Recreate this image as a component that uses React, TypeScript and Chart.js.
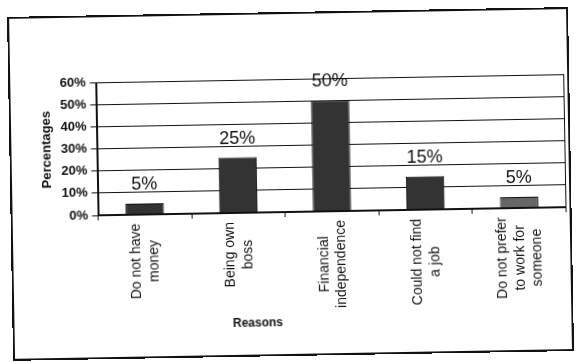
import { useEffect, useRef } from "react";
import { Chart, registerables } from "chart.js";

Chart.register(...registerables);

// Survey: reasons for starting own business
const reasons: string[][] = [
  ["Do not have", "money"],
  ["Being own", "boss"],
  ["Financial", "independence"],
  ["Could not find", "a job"],
  ["Do not prefer", "to work for", "someone"],
];
const percentages: number[] = [5, 25, 50, 15, 5];
const barColors: string[] = ["#333333", "#333333", "#333333", "#333333", "#666666"];
const yMax = 60;
const yStep = 10;
const yAxisTitle = "Percentages";
const xAxisTitle = "Reasons";

const FONT = '"Liberation Sans", Arial, sans-serif';
const INK = "#111111";

// Draws the plot frame, the wrapped category labels, the x-axis title and value labels
const annotate = {
  id: "annotate",
  afterDatasetsDraw(chart: any) {
    const { ctx } = chart;
    const meta = chart.getDatasetMeta(0);
    ctx.save();
    ctx.font = `18px ${FONT}`;
    ctx.fillStyle = INK;
    ctx.textAlign = "center";
    ctx.textBaseline = "middle";
    meta.data.forEach((bar: any, i: number) => {
      ctx.fillText(`${percentages[i]}%`, bar.x, bar.y - 19);
    });
    ctx.restore();
  },
  afterDraw(chart: any) {
    const { ctx, chartArea } = chart;
    const xScale = chart.scales.x;
    ctx.save();
    ctx.strokeStyle = INK;
    ctx.lineWidth = 1;
    ctx.strokeRect(
      Math.round(chartArea.left) + 0.5,
      Math.round(chartArea.top) + 0.5,
      Math.round(chartArea.width) - 1,
      Math.round(chartArea.height) - 1
    );

    ctx.font = `14px ${FONT}`;
    ctx.fillStyle = INK;
    const lineH = 17.5;
    reasons.forEach((lines, i) => {
      const px = xScale.getPixelForValue(i);
      const maxW = Math.max(...lines.map((l) => ctx.measureText(l).width));
      const top = chartArea.bottom + 9;
      ctx.save();
      ctx.translate(px, top + maxW / 2);
      ctx.rotate(-Math.PI / 2);
      ctx.textAlign = "center";
      ctx.textBaseline = "middle";
      lines.forEach((l, j) => {
        ctx.fillText(l, 0, (j - (lines.length - 1) / 2) * lineH);
      });
      ctx.restore();
    });

    ctx.font = `bold 12px ${FONT}`;
    ctx.textAlign = "center";
    ctx.textBaseline = "middle";
    ctx.fillText(xAxisTitle, chartArea.left + 158, 322.5);
    ctx.restore();
  },
};

export default function App() {
  const canvasRef = useRef<HTMLCanvasElement | null>(null);

  useEffect(() => {
    if (!canvasRef.current) return;
    const chart = new Chart(canvasRef.current, {
      type: "bar",
      data: {
        labels: reasons.map((r) => r.join(" ")),
        datasets: [
          {
            data: percentages,
            backgroundColor: barColors,
            borderColor: INK,
            borderWidth: 1,
            barPercentage: 0.41,
            categoryPercentage: 1,
          },
        ],
      },
      options: {
        responsive: false,
        animation: false,
        layout: { padding: { left: 40, top: 79, right: 10.5, bottom: 32.3 } },
        plugins: {
          legend: { display: false },
          tooltip: { enabled: false },
        },
        scales: {
          x: {
            afterFit: (scale: any) => {
              scale.height = 117.7;
            },
            grid: {
              display: true,
              drawOnChartArea: false,
              drawTicks: true,
              tickLength: 5,
              color: INK,
              offset: true,
            },
            border: { display: true, color: INK, width: 1 },
            ticks: { display: false },
          },
          y: {
            min: 0,
            max: yMax,
            afterFit: (scale: any) => {
              scale.width = 57.5;
            },
            grid: { color: INK, lineWidth: 1, tickLength: 6, drawTicks: true },
            border: { display: true, color: INK, width: 1 },
            ticks: {
              stepSize: yStep,
              padding: 4,
              color: INK,
              font: { family: FONT, size: 13, weight: "bold" },
              callback: (v: any) => `${v}%`,
            },
            title: {
              display: true,
              text: yAxisTitle,
              color: INK,
              padding: { top: 0, bottom: 0 },
              font: { family: FONT, size: 13, weight: "bold" },
            },
          },
        },
      },
      plugins: [annotate],
    });
    return () => chart.destroy();
  }, []);

  return (
    <div
      style={{
        position: "absolute",
        left: 0,
        top: 0,
        width: 576,
        height: 362,
        overflow: "hidden",
        background: "#ffffff",
      }}
    >
      <div
        style={{
          position: "absolute",
          left: 0,
          top: 0,
          width: 576,
          height: 362,
          transform: "rotate(-1deg)",
          transformOrigin: "288px 181px",
        }}
      >
        <canvas
          ref={canvasRef}
          width={576}
          height={362}
          style={{ position: "absolute", left: 0, top: 0 }}
        />
        <div
          style={{
            position: "absolute",
            left: 10,
            top: 12,
            width: 561,
            height: 344,
            border: `2px solid ${INK}`,
            boxSizing: "border-box",
            pointerEvents: "none",
          }}
        />
      </div>
    </div>
  );
}
